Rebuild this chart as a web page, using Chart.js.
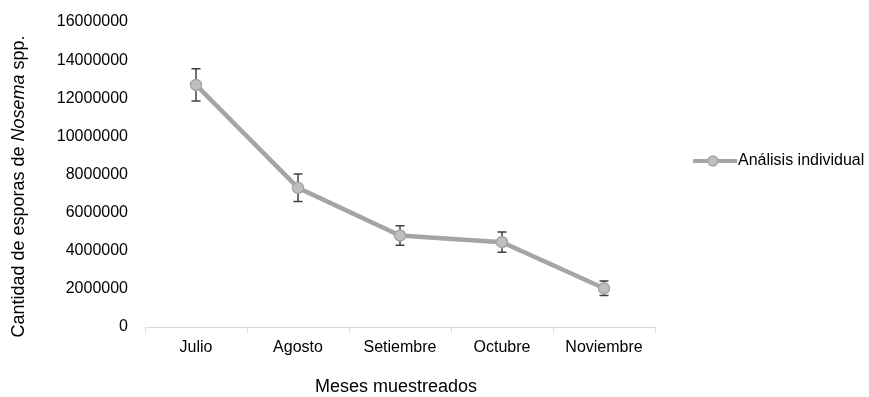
<!DOCTYPE html>
<html>
<head>
<meta charset="utf-8">
<script src="https://cdn.jsdelivr.net/npm/chart.js@4/dist/chart.umd.min.js"></script>
<style>
  html, body { margin: 0; padding: 0; background: #fff; }
  #wrap { width: 869px; height: 397px; position: relative; }
</style>
</head>
<body>
<div id="wrap"><canvas id="c"></canvas></div>
<script>
// Monthly Nosema spore counts (individual analysis) with error bars
const months = ['Julio', 'Agosto', 'Setiembre', 'Octubre', 'Noviembre'];
const sporeCounts = [12700000, 7300000, 4800000, 4450000, 2030000];
const sporeErrors = [850000, 720000, 510000, 530000, 380000];
const yMin = 0;
const yMax = 16000000;
const yStep = 2000000;
const seriesLabel = 'Análisis individual';
const xTitle = 'Meses muestreados';

const FONT = '"Liberation Sans", Arial, sans-serif';
const LINE_COLOR = '#a5a5a5';
const POINT_FILL = '#bfbfbf';
const ERR_COLOR = '#404040';

// Vertical error bars with caps, drawn under the line and markers
const errorBars = {
  id: 'errorBars',
  beforeDatasetsDraw(chart) {
    const ctx = chart.ctx;
    const xs = chart.scales.x, ys = chart.scales.y;
    ctx.save();
    ctx.strokeStyle = ERR_COLOR;
    ctx.lineWidth = 1.5;
    sporeCounts.forEach((v, i) => {
      const x = xs.getPixelForValue(i);
      const yt = ys.getPixelForValue(v + sporeErrors[i]);
      const yb = ys.getPixelForValue(v - sporeErrors[i]);
      ctx.beginPath();
      ctx.moveTo(x, yt); ctx.lineTo(x, yb);
      ctx.moveTo(x - 4.5, yt); ctx.lineTo(x + 4.5, yt);
      ctx.moveTo(x - 4.5, yb); ctx.lineTo(x + 4.5, yb);
      ctx.stroke();
    });
    ctx.restore();
  }
};

// Axis titles (with italic genus name) and the legend at the right
const decorations = {
  id: 'decorations',
  afterDraw(chart) {
    const ctx = chart.ctx;
    const area = chart.chartArea;
    ctx.save();
    ctx.fillStyle = '#000';
    ctx.textBaseline = 'middle';

    // y-axis title, rotated
    const parts = [
      { t: 'Cantidad de esporas de ', f: '18px ' + FONT },
      { t: 'Nosema', f: 'italic 18px ' + FONT },
      { t: ' spp.', f: '18px ' + FONT }
    ];
    let total = 0;
    parts.forEach(p => { ctx.font = p.f; p.w = ctx.measureText(p.t).width; total += p.w; });
    ctx.translate(19, area.top + (area.bottom - area.top) / 2 + 12);
    ctx.rotate(-Math.PI / 2);
    let x0 = -total / 2;
    ctx.textAlign = 'left';
    parts.forEach(p => { ctx.font = p.f; ctx.fillText(p.t, x0, 0); x0 += p.w; });
    ctx.setTransform(1, 0, 0, 1, 0, 0);

    // x-axis title
    ctx.font = '18px ' + FONT;
    ctx.textAlign = 'center';
    ctx.fillText(xTitle, (area.left + area.right) / 2 - 4, 387);

    // legend
    const ly = 161, lx = 693;
    ctx.strokeStyle = LINE_COLOR;
    ctx.lineWidth = 4;
    ctx.beginPath();
    ctx.moveTo(lx, ly); ctx.lineTo(lx + 44, ly);
    ctx.stroke();
    ctx.beginPath();
    ctx.arc(lx + 20, ly, 5, 0, Math.PI * 2);
    ctx.fillStyle = POINT_FILL;
    ctx.fill();
    ctx.lineWidth = 1.5;
    ctx.stroke();
    ctx.fillStyle = '#000';
    ctx.font = '16px ' + FONT;
    ctx.textAlign = 'left';
    ctx.fillText(seriesLabel, lx + 45, ly);
    ctx.restore();
  }
};

new Chart(document.getElementById('c'), {
  type: 'line',
  data: {
    labels: months,
    datasets: [{
      label: seriesLabel,
      data: sporeCounts,
      borderColor: LINE_COLOR,
      borderWidth: 4.5,
      backgroundColor: POINT_FILL,
      pointBackgroundColor: POINT_FILL,
      pointBorderColor: LINE_COLOR,
      pointBorderWidth: 1.5,
      pointRadius: 5.5,
      tension: 0,
      fill: false
    }]
  },
  options: {
    responsive: true,
    maintainAspectRatio: false,
    animation: false,
    devicePixelRatio: 1,
    layout: { autoPadding: false, padding: { top: 22, right: 214, bottom: 0, left: 45 } },
    plugins: {
      legend: { display: false },
      tooltip: { enabled: false }
    },
    scales: {
      x: {
        offset: true,
        grid: {
          display: true,
          drawOnChartArea: false,
          drawTicks: true,
          tickLength: 6,
          color: '#d9d9d9',
          offset: true
        },
        border: { display: true, color: '#d9d9d9', width: 1 },
        ticks: {
          color: '#000',
          font: { family: FONT, size: 16 },
          padding: 5,
          maxRotation: 0,
          autoSkip: false
        },
        afterFit(scale) {
          scale.height = 70;
          scale.paddingLeft = 0;
          scale.paddingRight = 0;
        }
      },
      y: {
        min: yMin,
        max: yMax,
        grid: { display: false, drawTicks: false },
        border: { display: false },
        ticks: {
          stepSize: yStep,
          color: '#000',
          font: { family: FONT, size: 16 },
          padding: 17,
          callback: v => String(v)
        },
        afterFit(scale) {
          scale.width = 100;
          scale.paddingTop = 0;
          scale.paddingBottom = 0;
        }
      }
    }
  },
  plugins: [errorBars, decorations]
});
</script>
</body>
</html>
